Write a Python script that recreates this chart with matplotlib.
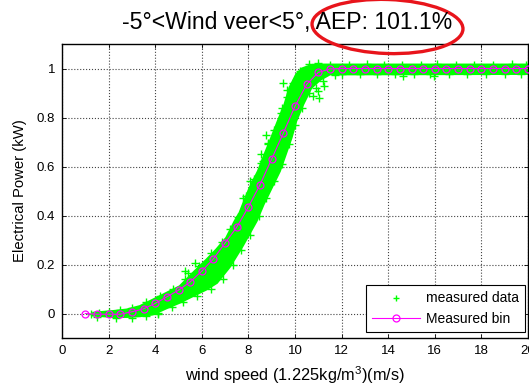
import matplotlib
matplotlib.use("Agg")
import matplotlib.pyplot as plt
from matplotlib.patches import Ellipse, Polygon
from matplotlib.lines import Line2D
from matplotlib.transforms import IdentityTransform

plt.rcParams['font.family'] = ['Liberation Sans', 'DejaVu Sans']
plt.rcParams['mathtext.fontset'] = 'custom'
plt.rcParams['mathtext.rm'] = 'Liberation Sans'
plt.rcParams['mathtext.it'] = 'Liberation Sans:italic'

# ---- data ----
bin_wind = [1.0, 1.5, 2.0, 2.5, 3.0, 3.5, 4.0, 4.5, 5.0, 5.5, 6.0, 6.5, 7.0, 7.5,
            8.0, 8.5, 9.0, 9.5, 10.0, 10.5, 11.0, 11.5, 12.0, 12.5, 13.0, 13.5,
            14.0, 14.5, 15.0, 15.5, 16.0, 16.5, 17.0, 17.5, 18.0, 18.5, 19.0,
            19.5, 20.0]
bin_power = [0.0, -0.003, -0.003, -0.003, 0.007, 0.019, 0.041, 0.068, 0.095,
             0.129, 0.173, 0.223, 0.288, 0.352, 0.435, 0.526, 0.631, 0.737,
             0.846, 0.935, 0.984, 0.998, 1.0, 1.0, 1.0, 1.0, 1.0, 1.0, 1.0, 1.0,
             1.0, 1.0, 1.0, 1.0, 1.0, 1.0, 1.0, 1.0, 1.0]

# outline of the dense cloud of measured points
cloud_wind = [1.30, 2.2, 2.8, 3.35, 3.9, 4.5, 5.05, 5.6, 6.2, 6.65, 7.2, 7.75,
              7.95, 8.35, 8.65, 9.0, 9.35, 9.6, 9.85, 10.05, 10.35, 10.7,
              11.1, 11.5, 20.0,
              20.0, 10.9, 10.7, 10.3, 10.05, 9.76, 9.55, 9.26, 8.98, 8.69, 8.41,
              8.05, 7.76, 7.62, 7.41, 7.05, 6.62, 6.2, 5.62, 5.05, 4.48, 3.91,
              3.34, 2.77, 2.2, 1.34]
cloud_power = [-0.008, -0.014, -0.014, -0.011, -0.004, 0.022, 0.044, 0.070,
               0.098, 0.125, 0.190, 0.275, 0.309, 0.377, 0.445, 0.513, 0.581,
               0.649, 0.717, 0.785, 0.853, 0.921, 0.955, 0.976, 0.978,
               1.016, 1.016, 1.014, 1.000, 0.976, 0.921, 0.853, 0.785, 0.717,
               0.649, 0.581, 0.513, 0.445, 0.411, 0.377, 0.309, 0.261, 0.220,
               0.166, 0.111, 0.084, 0.057, 0.030, 0.016, 0.010, 0.003]

# individual measured points at the cloud edges and outliers
obs_wind = [1.25, 1.6, 2.0, 2.5, 3.0, 3.6, 4.2, 4.75, 5.3, 5.9, 6.4, 6.85,
            7.2, 7.55, 7.9, 8.25, 8.55, 8.85, 9.1, 9.4, 9.65, 9.9, 10.2, 10.6,
            11.0,
            1.5, 2.3, 3.0, 3.6, 4.1, 4.7, 5.2, 5.8, 6.4, 6.9, 7.35, 7.7, 8.05,
            8.45, 8.75, 9.1, 9.45, 9.75, 10.0, 10.3, 10.6, 11.2, 11.7,
            9.48, 9.65, 9.45, 8.77, 8.84, 8.55, 8.62, 10.98, 11.05, 10.76,
            11.26, 8.05, 7.77, 5.7, 5.27, 5.41, 4.12, 14.62, 15.97, 10.9,
            11.5, 12.3, 13.1, 13.8, 14.6, 15.4, 16.1, 16.9, 17.7, 18.5, 19.3,
            19.9,
            12.0, 12.8, 13.5, 14.3, 15.1, 15.8, 16.6, 17.4, 18.2, 19.0, 19.7]
obs_power = [-0.004, 0.004, 0.008, 0.014, 0.022, 0.045, 0.072, 0.100, 0.140,
             0.195, 0.245, 0.290, 0.345, 0.395, 0.480, 0.550, 0.615, 0.690,
             0.750, 0.820, 0.885, 0.940, 0.990, 1.020, 1.022,
             -0.016, -0.020, -0.018, -0.012, 0.000, 0.025, 0.045, 0.072,
             0.100, 0.140, 0.200, 0.260, 0.320, 0.400, 0.470, 0.540, 0.610,
             0.690, 0.770, 0.840, 0.900, 0.950, 0.975,
             0.942, 0.914, 0.840, 0.730, 0.697, 0.649, 0.622, 0.907, 0.880,
             0.887, 0.928, 0.540, 0.472, 0.207, 0.173, 0.166, 0.003, 0.969,
             0.969, 0.921,
             1.016, 1.015, 1.017, 1.014, 1.016, 1.015, 1.017, 1.014, 1.016,
             1.015, 1.017, 1.014,
             0.978, 0.976, 0.979, 0.977, 0.978, 0.976, 0.979, 0.977, 0.978,
             0.976, 0.979]

x_ticks = [0, 2, 4, 6, 8, 10, 12, 14, 16, 18, 20]
y_ticks = [0, 0.2, 0.4, 0.6, 0.8, 1.0]
y_tick_labels = ['0', '0.2', '0.4', '0.6', '0.8', '1']

title_text = '-5°<Wind veer<5°, AEP: 101.1%'
x_label = r'wind speed (1.225kg/m$^3$)(m/s)'
y_label = 'Electrical Power (kW)'

GREEN = '#00FF00'
MAGENTA = '#FF00FF'

W, H = 529, 389
fig = plt.figure(figsize=(W / 100, H / 100), dpi=100)
ax = fig.add_axes([62 / W, 1 - 338 / H, 466 / W, 294 / H])
ax.set_axisbelow(True)

ax.add_patch(Polygon(list(zip(cloud_wind, cloud_power)), closed=True,
                     facecolor=GREEN, edgecolor=GREEN, linewidth=1.5, zorder=2))
ax.plot(obs_wind, obs_power, linestyle='none', marker='+', color=GREEN,
        markersize=5.5, markeredgewidth=1.0, zorder=2)
ax.plot(bin_wind, bin_power, color=MAGENTA, linewidth=0.8, marker='o',
        markersize=5, markerfacecolor='none', markeredgecolor=MAGENTA,
        markeredgewidth=0.9, zorder=3)

ax.set_xlim(0, 20)
ax.set_ylim(-0.1, 1.1)
ax.set_xticks(x_ticks)
ax.set_xticklabels([str(t) for t in x_ticks])
ax.set_yticks(y_ticks)
ax.set_yticklabels(y_tick_labels)
ax.tick_params(direction='in', length=3, width=0.6, top=True, right=True,
               labelsize=9.5, pad=5, colors='black')
ax.grid(True, color='#444444', linestyle=':', linewidth=0.8)
for s in ax.spines.values():
    s.set_linewidth(1.0)
    s.set_color('black')

ax.set_xlabel(x_label, fontsize=11.8, labelpad=5)
ax.set_ylabel(y_label, fontsize=10.7, labelpad=7)

fig.text(287.5 / W, 1 - 23 / H, title_text, fontsize=16.6, ha='center',
         va='center')

ell = Ellipse((387.5, H - 26.5), 151, 54, angle=-2, fill=False,
              edgecolor='#E8141B', linewidth=2.4, transform=IdentityTransform(),
              clip_on=False)
fig.add_artist(ell)

handles = [Line2D([], [], linestyle='none', marker='+', color=GREEN,
                  markersize=5, markeredgewidth=1.0),
           Line2D([], [], color=MAGENTA, linewidth=0.8, marker='o',
                  markersize=5, markerfacecolor='none',
                  markeredgecolor=MAGENTA, markeredgewidth=0.9)]
leg = ax.legend(handles, ['measured data', 'Measured bin'], loc='lower right',
                bbox_to_anchor=(525 / W, 1 - 332 / H),
                bbox_transform=fig.transFigure, fontsize=10, frameon=True,
                fancybox=False, framealpha=1, edgecolor='black',
                handlelength=3.4, handletextpad=0.45, borderpad=0.45,
                labelspacing=0.45, borderaxespad=0)
leg.get_frame().set_linewidth(0.8)

fig.savefig('out.png', dpi=100)
